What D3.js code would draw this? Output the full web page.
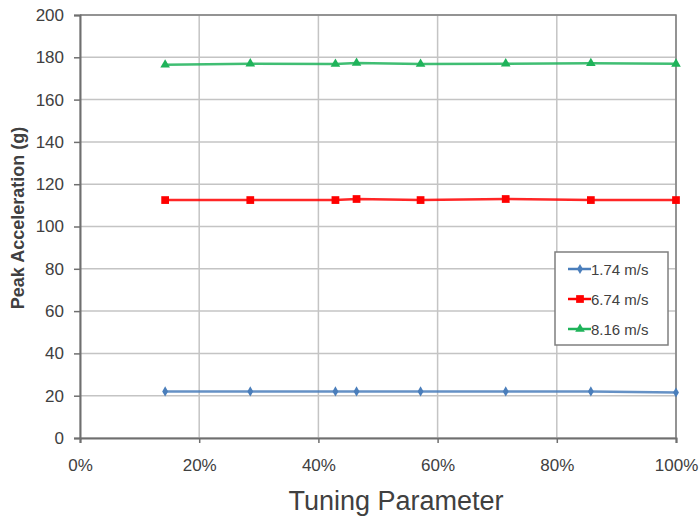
<!DOCTYPE html>
<html>
<head>
<meta charset="utf-8">
<script src="https://cdn.jsdelivr.net/npm/d3@7"></script>
<style>
  body { margin: 0; background: #fff; }
  svg text { font-family: "Liberation Sans", Arial, sans-serif; fill: #404040; }
</style>
</head>
<body>
<svg id="chart"></svg>
<script>
// tuning parameter (fraction) and peak acceleration per velocity
const tuning = [1 / 7, 2 / 7, 3 / 7, 0.464, 4 / 7, 5 / 7, 6 / 7, 1];
const accel174 = [22, 22, 22, 22, 22, 22, 22, 21.5];
const accel674 = [112.5, 112.5, 112.5, 113, 112.5, 113, 112.5, 112.5];
const accel816 = [176.5, 177, 176.8, 177.3, 176.8, 177, 177.2, 176.9];
const seriesNames = ['1.74 m/s', '6.74 m/s', '8.16 m/s'];
const xTicks = [0, 0.2, 0.4, 0.6, 0.8, 1];
const yTicks = [0, 20, 40, 60, 80, 100, 120, 140, 160, 180, 200];

const width = 699, height = 516;
const margin = { top: 15, right: 23, bottom: 78, left: 80 };
const w = width - margin.left - margin.right;
const h = height - margin.top - margin.bottom;

const svg = d3.select('#chart').attr('width', width).attr('height', height);
const main = svg.append('g').attr('transform', `translate(${margin.left},${margin.top})`);

const x = d3.scaleLinear().domain([0, 1]).range([0, w]);
const y = d3.scaleLinear().domain([0, 200]).range([h, 0]);

// gridlines
main.append('g').selectAll('line.v').data(xTicks).enter().append('line')
  .attr('x1', d => x(d)).attr('x2', d => x(d)).attr('y1', 0).attr('y2', h)
  .attr('stroke', '#c4c4c4').attr('stroke-width', 1.5);
main.append('g').selectAll('line.h').data(yTicks).enter().append('line')
  .attr('x1', 0).attr('x2', w).attr('y1', d => y(d)).attr('y2', d => y(d))
  .attr('stroke', '#c4c4c4').attr('stroke-width', 1.5);

// plot border (top/right)
main.append('path').attr('d', `M0,0H${w}V${h}`).attr('fill', 'none')
  .attr('stroke', '#7f7f7f').attr('stroke-width', 1.5);

const xAxis = d3.axisBottom(x).tickValues(xTicks).tickFormat(d3.format('.0%')).tickSize(5).tickPadding(16);
const yAxis = d3.axisLeft(y).tickValues(yTicks).tickSize(6).tickPadding(10);

const gx = main.append('g').attr('transform', `translate(0,${h})`).call(xAxis);
const gy = main.append('g').call(yAxis);
[gx, gy].forEach(g => {
  g.select('.domain').attr('stroke', '#6f6f6f').attr('stroke-width', 2);
  g.selectAll('.tick line').attr('stroke', '#6f6f6f').attr('stroke-width', 1.5);
  g.selectAll('.tick text').style('font-size', '17px').style('font-family', '"Liberation Sans", Arial, sans-serif').attr('fill', '#555');
});

// axis titles
svg.append('text').attr('x', 396).attr('y', 510)
  .attr('text-anchor', 'middle').style('font-size', '27px').attr('fill', '#404040')
  .text('Tuning Parameter');
svg.append('text').attr('transform', `translate(24,218) rotate(-90)`)
  .attr('text-anchor', 'middle').style('font-size', '18px').style('font-weight', 'bold')
  .attr('fill', '#333').text('Peak Acceleration (g)');

const series = [
  { name: seriesNames[0], values: accel174, color: '#4a7ebb', shape: d3.symbolDiamond, size: 30 },
  { name: seriesNames[1], values: accel674, color: '#ff0000', shape: d3.symbolSquare, size: 60 },
  { name: seriesNames[2], values: accel816, color: '#1fb35a', shape: d3.symbolTriangle, size: 40 }
];

const line = d3.line().x(d => x(d[0])).y(d => y(d[1]));

series.forEach(s => {
  const pts = tuning.map((t, i) => [t, s.values[i]]);
  main.append('path').datum(pts).attr('d', line)
    .attr('fill', 'none').attr('stroke', s.color).attr('stroke-width', 2.5).attr('opacity', 0.85);
  main.append('g').selectAll('path').data(pts).enter().append('path')
    .attr('d', d3.symbol().type(s.shape).size(s.size))
    .attr('transform', d => `translate(${x(d[0])},${y(d[1])})`)
    .attr('fill', s.color);
});

// legend
const lg = svg.append('g').attr('transform', 'translate(555,252)');
lg.append('rect').attr('width', 113).attr('height', 93).attr('fill', '#fff')
  .attr('stroke', '#7f7f7f').attr('stroke-width', 1.5);
series.forEach((s, i) => {
  const yy = 17 + i * 30;
  lg.append('line').attr('x1', 13).attr('x2', 36).attr('y1', yy).attr('y2', yy)
    .attr('stroke', s.color).attr('stroke-width', 2.5);
  lg.append('path').attr('d', d3.symbol().type(s.shape).size(s.size))
    .attr('transform', `translate(25,${yy})`).attr('fill', s.color);
  lg.append('text').attr('x', 36).attr('y', yy + 5.5).style('font-size', '15px')
    .attr('fill', '#404040').text(s.name);
});
</script>
</body>
</html>
